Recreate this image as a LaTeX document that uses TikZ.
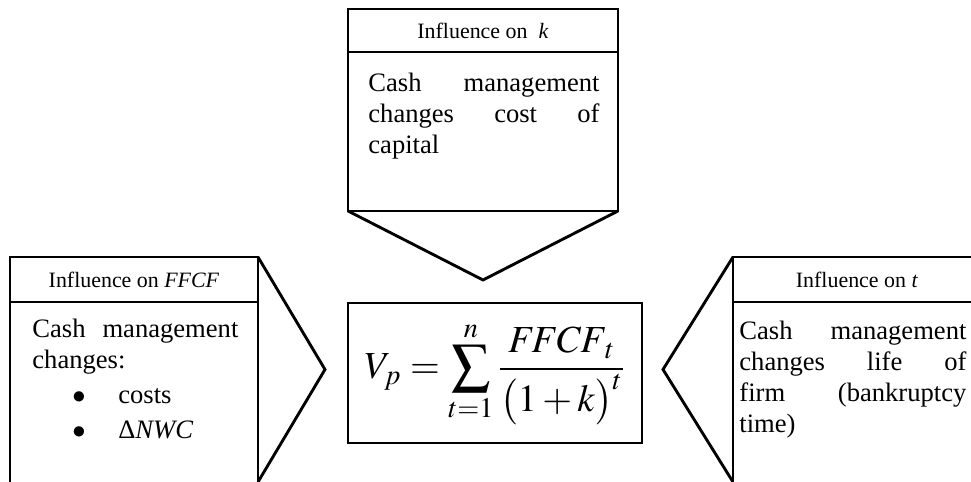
\documentclass[tikz,border=0pt]{standalone}
\usepackage{mathptmx}
\usepackage[no-math]{fontspec}
\setmainfont{Liberation Serif}
\usetikzlibrary{positioning}

\begin{document}
\begin{tikzpicture}[x=0.47pt,y=-0.47pt,line join=miter]
\tikzstyle{boxline}=[draw=black,line width=.8pt]
\tikzstyle{tipline}=[draw=black,line width=1.35pt]
\tikzstyle{headtext}=[inner sep=0pt,font=\fontsize{10.3}{12}\selectfont]
\tikzstyle{bodytext}=[inner sep=0pt,anchor=north west,align=left,font=\fontsize{12.5}{14.5}\selectfont]
\useasboundingbox (0,0) rectangle (971,482);
\clip (0,0) rectangle (971,482);

% influence on k (top, pointing down)
\draw[boxline] (348,9) rectangle (618,211);
\draw[boxline] (348,52) -- (618,52);
\draw[tipline] (348,211) -- (483,280) -- (618,211);
\node[headtext] (khead) at (483,30.5) {Influence on~ \textit{k}};
\node[bodytext,text width=108.6pt] (kbody) at (368,72.8) {Cash\hfill management\\changes\hfill cost\hfill of\\capital};

% influence on FFCF (left, pointing right)
\draw[boxline] (10,257) rectangle (258,495);
\draw[boxline] (10,302) -- (258,302);
\draw[tipline] (258,257) -- (325,369.5) -- (258,482);
\node[headtext] (fhead) at (134,279.5) {Influence on \textit{FFCF}};
\node[bodytext,text width=96.8pt] (fbody) at (32,318.8) {Cash\hfill management\\changes:\\[2pt]
  \hspace*{18.8pt}\makebox[21.6pt][l]{$\bullet$}costs\\[2pt]
  \hspace*{18.8pt}\makebox[21.6pt][l]{$\bullet$}Δ\textit{NWC}};

% influence on t (right, pointing left)
\draw[boxline] (733,257) rectangle (995,495);
\draw[boxline] (733,302) -- (995,302);
\draw[tipline] (733,257) -- (663,369.5) -- (733,482);
\node[headtext] (thead) at (857,279.5) {Influence on \textit{t}};
\node[bodytext,text width=106.7pt] (tbody) at (739,320.8) {Cash\hfill management\\changes\hfill life\hfill of\\firm\hfill (bankruptcy\\time)};

% value of the firm
\node[draw,line width=.8pt,minimum width=138.2pt,minimum height=65.8pt,inner sep=0pt,font=\fontsize{18}{22}\selectfont] (vp) at (495,373)
  {$\displaystyle V_{p}=\sum_{t=1}^{n}\frac{\mathit{FFCF}_{t}}{\bigl(1+k\bigr)^{t}}$};
\end{tikzpicture}
\end{document}
